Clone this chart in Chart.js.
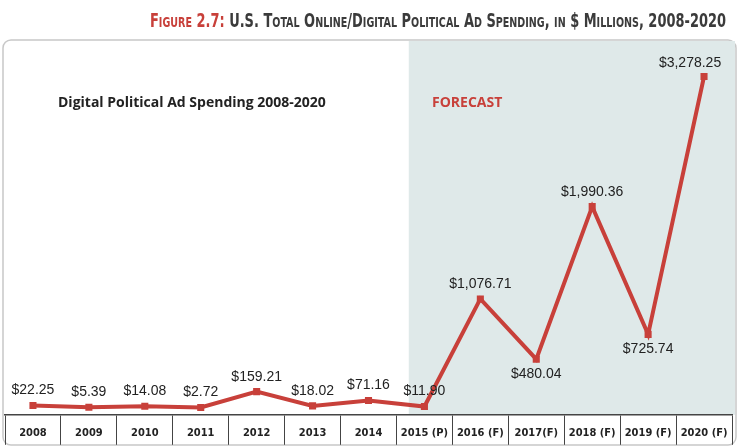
<!DOCTYPE html>
<html><head><meta charset="utf-8">
<script src="https://cdn.jsdelivr.net/npm/chart.js@4"></script>
<style>html,body{margin:0;padding:0;background:#fff}#w{position:relative;width:739px;height:448px}</style>
</head><body><div id="w"><canvas id="c" width="739" height="448"></canvas></div>
<script>
const categories = ["2008","2009","2010","2011","2012","2013","2014","2015 (P)","2016 (F)","2017(F)","2018 (F)","2019 (F)","2020 (F)"];
const spending = [22.25,5.39,14.08,2.72,159.21,18.02,71.16,11.90,1076.71,480.04,1990.36,725.74,3278.25];
const valueLabels = ["$22.25","$5.39","$14.08","$2.72","$159.21","$18.02","$71.16","$11.90","$1,076.71","$480.04","$1,990.36","$725.74","$3,278.25"];
const labelBelow = [false,false,false,false,false,false,false,false,false,true,false,true,false];
const forecastStart = 7;
const RED = "#c8403a";
const TFONT = "'Liberation Sans Narrow','DejaVu Sans Condensed',sans-serif";

const decor = {
  id:'decor',
  beforeDraw(ch){
    const c=ch.ctx, a=ch.chartArea, x=ch.scales.x;
    c.save();
    c.fillStyle="#fff";c.fillRect(0,0,ch.width,ch.height);
    c.strokeStyle="#c8c8c8";c.lineWidth=1.5;
    c.beginPath();c.roundRect(3,40,733,405,8);c.stroke();
    const sp=x.getPixelForValue(1)-x.getPixelForValue(0);
    const sx=x.getPixelForValue(forecastStart)-0.28*sp;
    c.fillStyle="#dfe9e9";
    c.fillRect(sx,41,735-sx,a.bottom-41);
    // title
    const parts=[["F",19,RED],["IGURE",14,RED],[" 2.7: ",19,RED],["U.S. T",19,"#3b3b3b"],["OTAL",14,"#3b3b3b"],[" O",19,"#3b3b3b"],["NLINE",14,"#3b3b3b"],["/D",19,"#3b3b3b"],["IGITAL",14,"#3b3b3b"],[" P",19,"#3b3b3b"],["OLITICAL",14,"#3b3b3b"],[" A",19,"#3b3b3b"],["D",14,"#3b3b3b"],[" S",19,"#3b3b3b"],["PENDING",14,"#3b3b3b"],[", ",19,"#3b3b3b"],["IN",14,"#3b3b3b"],[" $ M",19,"#3b3b3b"],["ILLIONS",14,"#3b3b3b"],[", 2008-2020",19,"#3b3b3b"]];
    let tw=0;
    for(const p of parts){c.font="bold "+p[1]+"px "+TFONT;tw+=c.measureText(p[0]).width;}
    const target=576, sc=target/tw;
    c.translate(150,27);c.scale(sc,1);
    let tx=0;
    for(const p of parts){c.font="bold "+p[1]+"px "+TFONT;c.fillStyle=p[2];c.fillText(p[0],tx,0);tx+=c.measureText(p[0]).width;}
    c.setTransform(1,0,0,1,0,0);
    c.font="bold 14px 'Open Sans',sans-serif";
    c.fillStyle="#222";c.fillText("Digital Political Ad Spending 2008-2020",58,107);
    c.fillStyle=RED;c.fillText("FORECAST",432,107);
    c.restore();
  },
  afterDraw(ch){
    const c=ch.ctx,x=ch.scales.x,a=ch.chartArea;
    c.save();c.font="bold 11px "+TFONT;c.fillStyle="#222";c.textAlign="center";c.textBaseline="middle";
    const sp=x.getPixelForValue(1)-x.getPixelForValue(0);
    categories.forEach((t,i)=>{
      const px=x.getPixelForValue(i);
      c.save();c.translate(px,a.bottom+18);
      const w=c.measureText(t).width; if(w>sp-6){c.scale((sp-6)/w,1);}
      c.fillText(t,0,0);c.restore();
    });
    c.restore();
  },
  afterDatasetsDraw(ch){
    const c=ch.ctx, m=ch.getDatasetMeta(0);
    c.save();c.font="14px 'Liberation Sans',Arial,sans-serif";c.fillStyle="#222";c.textAlign="center";
    m.data.forEach((p,i)=>{
      const x=p.x,y=p.y;
      if(i===spending.length-1){c.textBaseline="bottom";c.fillText(valueLabels[i],x-14,y-6);return;}
      if(labelBelow[i]){c.textBaseline="top";c.fillText(valueLabels[i],x,y+8);}
      else{c.textBaseline="bottom";c.fillText(valueLabels[i],x,y-8);}
    });
    c.restore();
  }
};

new Chart(document.getElementById('c'),{
  type:'line',
  data:{labels:categories,datasets:[{data:spending,borderColor:RED,backgroundColor:RED,borderWidth:4,pointStyle:'rect',pointRadius:5,pointBorderWidth:0,tension:0}]},
  options:{
    responsive:false,animation:false,
    layout:{padding:{top:42,left:5,right:7,bottom:2}},
    plugins:{legend:{display:false},tooltip:{enabled:false}},
    scales:{
      y:{display:false,min:-70,max:3620},
      x:{offset:true,
        grid:{offset:true,drawOnChartArea:false,tickLength:30,color:"#444",lineWidth:1},
        border:{color:"#444",width:1.5},
        ticks:{color:"rgba(0,0,0,0)",font:{size:1},padding:0,maxRotation:0,autoSkip:false}}
    }
  },
  plugins:[decor]
});
</script></body></html>
